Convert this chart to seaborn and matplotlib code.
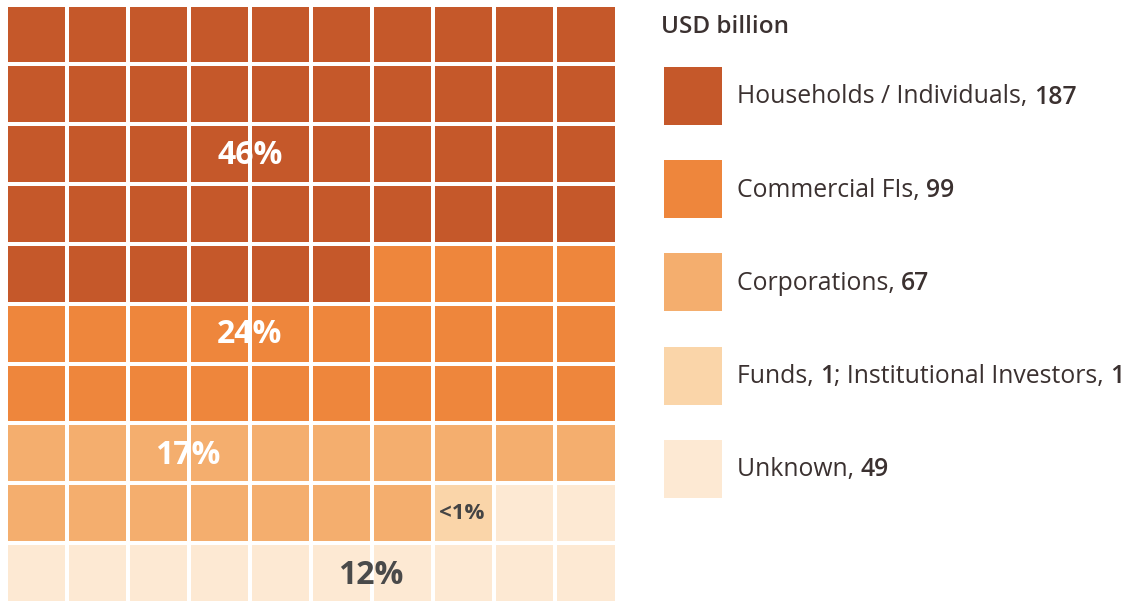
import numpy as np
import pandas as pd
import seaborn as sns
import matplotlib.pyplot as plt
from matplotlib.colors import ListedColormap
from matplotlib.patches import Rectangle

# Holders of outstanding amounts (USD billion) and their share of 100 waffle cells
categories = ["Households / Individuals", "Commercial FIs", "Corporations",
              "Funds; Institutional Investors", "Unknown"]
usd_billion = [187, 99, 67, 1, 49]
cell_counts = [46, 24, 17, 1, 12]
share_labels = ["46%", "24%", "17%", "<1%", "12%"]
colors = ["#C5582A", "#EE863C", "#F4AE6E", "#FAD5A9", "#FDE9D3"]

# Legend text segments: (text, bold)
legend_lines = [
    [("Households / Individuals, ", False), ("187", True)],
    [("Commercial FIs, ", False), ("99", True)],
    [("Corporations, ", False), ("67", True)],
    [("Funds, ", False), ("1", True), ("; Institutional Investors, ", False), ("1", True)],
    [("Unknown, ", False), ("49", True)],
]

sns.set_theme(style="white")
plt.rcParams["font.family"] = ["Open Sans", "DejaVu Sans"]

W, H = 1137, 603
fig = plt.figure(figsize=(W / 100, H / 100), dpi=100)

# 10 x 10 grid filled row by row
cells = np.repeat(np.arange(len(cell_counts)), cell_counts).reshape(10, 10)
grid = pd.DataFrame(cells)

ax = fig.add_axes([5.5 / W, 0, 611 / W, 598.5 / H])
sns.heatmap(grid, ax=ax, cmap=ListedColormap(colors), vmin=-0.5, vmax=len(colors) - 0.5,
            cbar=False, linewidths=1.7, linecolor="white", square=False,
            xticklabels=False, yticklabels=False)

# Share annotations (heatmap coords: x = column, y = row from top)
label_pos = [(4.0, 2.52), (4.0, 5.52), (2.98, 7.53), (7.47, 8.51), (5.98, 9.54)]
label_color = ["white", "white", "white", "#444444", "#4A4A4A"]
label_size = [23, 23, 23, 16, 23]
for txt, (x, y), c, s in zip(share_labels, label_pos, label_color, label_size):
    ax.text(x, y, txt, ha="center", va="center", color=c, fontsize=s, fontweight="bold")

# Legend drawn in figure pixel coordinates
text_color = "#3B3130"
fig.text(661 / W, 1 - 27 / H, "USD billion", fontsize=17.5, fontweight="semibold",
         color=text_color, ha="left", va="center")

fig.canvas.draw()
renderer = fig.canvas.get_renderer()
pitch = 93.2
for i, (col, segs) in enumerate(zip(colors, legend_lines)):
    top = 67 + i * pitch
    fig.add_artist(Rectangle((664 / W, 1 - (top + 58) / H), 58 / W, 58 / H,
                             transform=fig.transFigure, facecolor=col, edgecolor="none"))
    x = 737
    yc = 1 - (top + 30) / H
    for s, bold in segs:
        t = fig.text(x / W, yc, s, fontsize=17.8, fontweight="semibold" if bold else "normal",
                     color=text_color, ha="left", va="center")
        bb = t.get_window_extent(renderer=renderer)
        x += bb.width

fig.savefig("out.png", dpi=100, facecolor="white")
